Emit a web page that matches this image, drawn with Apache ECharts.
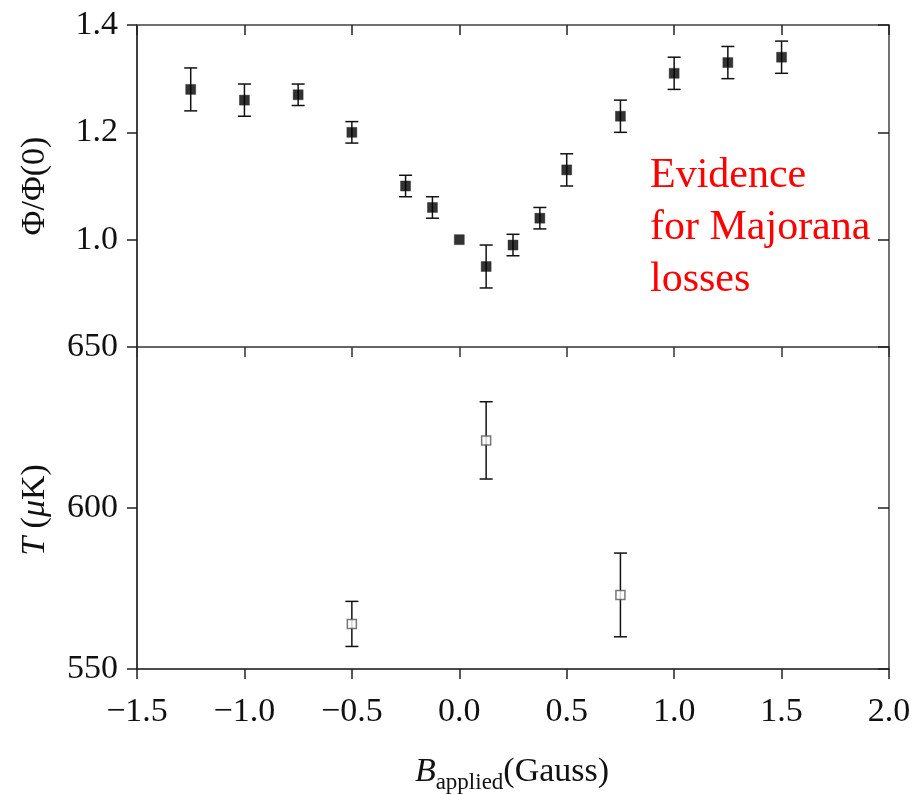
<!DOCTYPE html>
<html>
<head>
<meta charset="utf-8">
<script src="https://cdn.jsdelivr.net/npm/echarts@6/dist/echarts.min.js"></script>
<style>html,body{margin:0;padding:0;background:#fff}#c{width:918px;height:795px}</style>
</head>
<body>
<div id="c"></div>
<script>
// ---- data ----
const bField = [-1.25, -1.0, -0.75, -0.5, -0.25, -0.125, 0.0, 0.125, 0.25, 0.375, 0.5, 0.75, 1.0, 1.25, 1.5];
const phiRatio = [1.28, 1.26, 1.27, 1.20, 1.10, 1.06, 1.00, 0.95, 0.99, 1.04, 1.13, 1.23, 1.31, 1.33, 1.34];
const phiErr = [0.04, 0.03, 0.02, 0.02, 0.02, 0.02, 0.0, 0.04, 0.02, 0.02, 0.03, 0.03, 0.03, 0.03, 0.03];
const tField = [-0.5, 0.125, 0.75];
const temperature = [564, 621, 573];
const tempErr = [7, 12, 13];
const xTicks = [-1.5, -1.0, -0.5, 0.0, 0.5, 1.0, 1.5, 2.0];
const phiTicks = [0.8, 1.0, 1.2, 1.4];
const tTicks = [550, 600, 650];

const FONT = "'Liberation Serif', 'DejaVu Serif', serif";
const phiPts = bField.map((b, i) => [b, phiRatio[i]]);
const phiBars = bField.map((b, i) => [b, phiRatio[i] - phiErr[i], phiRatio[i] + phiErr[i]]);
const tPts = tField.map((b, i) => [b, temperature[i]]);
const tBars = tField.map((b, i) => [b, temperature[i] - tempErr[i], temperature[i] + tempErr[i]]);

function errorBar(params, api) {
  const x = api.value(0);
  const lo = api.coord([x, api.value(1)]);
  const hi = api.coord([x, api.value(2)]);
  if (Math.abs(hi[1] - lo[1]) < 1) return null;
  const w = 6.5;
  const st = { stroke: '#111', lineWidth: 1.5 };
  return {
    type: 'group',
    children: [
      { type: 'line', shape: { x1: lo[0], y1: lo[1], x2: hi[0], y2: hi[1] }, style: st },
      { type: 'line', shape: { x1: lo[0] - w, y1: lo[1], x2: lo[0] + w, y2: lo[1] }, style: st },
      { type: 'line', shape: { x1: hi[0] - w, y1: hi[1], x2: hi[0] + w, y2: hi[1] }, style: st }
    ]
  };
}

const fmtX = v => { const s = Math.abs(v).toFixed(1); return v < 0 ? '\u2212' + s : s; };

const labelStyle = { color: '#111', fontFamily: FONT, fontSize: 34 };

const chart = echarts.init(document.getElementById('c'), null, { renderer: 'canvas' });
chart.setOption({
  animation: false,
  backgroundColor: '#fff',
  grid: [
    { left: 137, top: 25, width: 752, height: 322 },
    { left: 137, top: 347, width: 752, height: 322 }
  ],
  xAxis: [
    { gridIndex: 0, type: 'value', position: 'top', min: xTicks[0], max: xTicks[xTicks.length - 1], interval: 0.5,
      axisLine: { show: true, onZero: false, lineStyle: { color: '#707070', width: 2 } },
      axisTick: { show: true, inside: true, length: 10, lineStyle: { color: '#222', width: 1.5 } },
      axisLabel: { show: false }, splitLine: { show: false } },
    { gridIndex: 1, type: 'value', position: 'top', min: xTicks[0], max: xTicks[xTicks.length - 1], interval: 0.5,
      axisLine: { show: true, onZero: false, lineStyle: { color: '#333', width: 1.5 } },
      axisTick: { show: true, inside: true, length: 10, lineStyle: { color: '#333', width: 1.5 } },
      axisLabel: { show: false }, splitLine: { show: false } },
    { gridIndex: 1, type: 'value', position: 'bottom', min: xTicks[0], max: xTicks[xTicks.length - 1], interval: 0.5,
      axisLine: { show: true, onZero: false, lineStyle: { color: '#111', width: 1.5 } },
      axisTick: { show: true, inside: false, length: 10, lineStyle: { color: '#222', width: 1.5 } },
      axisLabel: Object.assign({ margin: 26, formatter: fmtX }, labelStyle),
      splitLine: { show: false } }
  ],
  yAxis: [
    { gridIndex: 0, type: 'value', position: 'left', min: phiTicks[0], max: phiTicks[phiTicks.length - 1], interval: 0.2,
      axisLine: { show: true, onZero: false, lineStyle: { color: '#000', width: 1.5 } },
      axisTick: { show: true, inside: false, length: 10, lineStyle: { color: '#222', width: 1.5 } },
      axisLabel: Object.assign({ margin: 19, formatter: v => (v < 0.9 ? '' : v.toFixed(1)) }, labelStyle),
      splitLine: { show: false } },
    { gridIndex: 0, type: 'value', position: 'right', min: phiTicks[0], max: phiTicks[phiTicks.length - 1], interval: 0.2,
      axisLine: { show: true, onZero: false, lineStyle: { color: '#444', width: 1.5 } },
      axisTick: { show: true, inside: true, length: 11, lineStyle: { color: '#222', width: 1.5 } },
      axisLabel: { show: false }, splitLine: { show: false } },
    { gridIndex: 1, type: 'value', position: 'left', min: tTicks[0], max: tTicks[tTicks.length - 1], interval: 50,
      axisLine: { show: true, onZero: false, lineStyle: { color: '#000', width: 1.5 } },
      axisTick: { show: true, inside: false, length: 10, lineStyle: { color: '#222', width: 1.5 } },
      axisLabel: Object.assign({ margin: 19 }, labelStyle),
      splitLine: { show: false } },
    { gridIndex: 1, type: 'value', position: 'right', min: tTicks[0], max: tTicks[tTicks.length - 1], interval: 50,
      axisLine: { show: true, onZero: false, lineStyle: { color: '#444', width: 1.5 } },
      axisTick: { show: true, inside: true, length: 11, lineStyle: { color: '#222', width: 1.5 } },
      axisLabel: { show: false }, splitLine: { show: false } }
  ],
  series: [
    { type: 'custom', xAxisIndex: 0, yAxisIndex: 0, data: phiBars, renderItem: errorBar, z: 2 },
    { type: 'scatter', xAxisIndex: 0, yAxisIndex: 0, data: phiPts, symbol: 'rect', symbolSize: 10,
      itemStyle: { color: '#000', borderColor: '#222', borderWidth: 0.5 }, z: 3 },
    { type: 'custom', xAxisIndex: 2, yAxisIndex: 2, data: tBars, renderItem: errorBar, z: 2 },
    { type: 'scatter', xAxisIndex: 2, yAxisIndex: 2, data: tPts, symbol: 'rect', symbolSize: 9,
      itemStyle: { color: '#fff', borderColor: '#555', borderWidth: 1.5 }, z: 3 }
  ],
  graphic: [
    { type: 'text', x: 650, y: 150, z: 10,
      style: { text: 'Evidence\nfor Majorana\nlosses', font: "42px " + FONT, lineHeight: 52, fill: '#ff0000' } },
    { type: 'text', x: 35, y: 186, rotation: Math.PI / 2, z: 10,
      style: { text: '\u03A6/\u03A6(0)', font: "34px " + FONT, fill: '#111', align: 'center', verticalAlign: 'middle' } },
    { type: 'text', x: 35, y: 510, rotation: Math.PI / 2, z: 10,
      style: { text: '{i|T} ({i|\u03BC}K)', fill: '#111', align: 'center', verticalAlign: 'middle',
        fontFamily: FONT, fontSize: 34,
        rich: { i: { fontStyle: 'italic', fontFamily: FONT, fontSize: 34, fill: '#111' } } } },
    { type: 'text', x: 512, y: 772, z: 10,
      style: { text: '{b|B}{s|applied}{n|(Gauss)}', align: 'center', verticalAlign: 'middle', fill: '#111',
        rich: {
          b: { fontStyle: 'italic', fontFamily: FONT, fontSize: 34, lineHeight: 44, verticalAlign: 'middle', fill: '#111' },
          s: { fontFamily: FONT, fontSize: 23, lineHeight: 44, verticalAlign: 'bottom', fill: '#111' },
          n: { fontFamily: FONT, fontSize: 34, lineHeight: 44, verticalAlign: 'middle', fill: '#111' }
        } } }
  ]
});
</script>
</body>
</html>
